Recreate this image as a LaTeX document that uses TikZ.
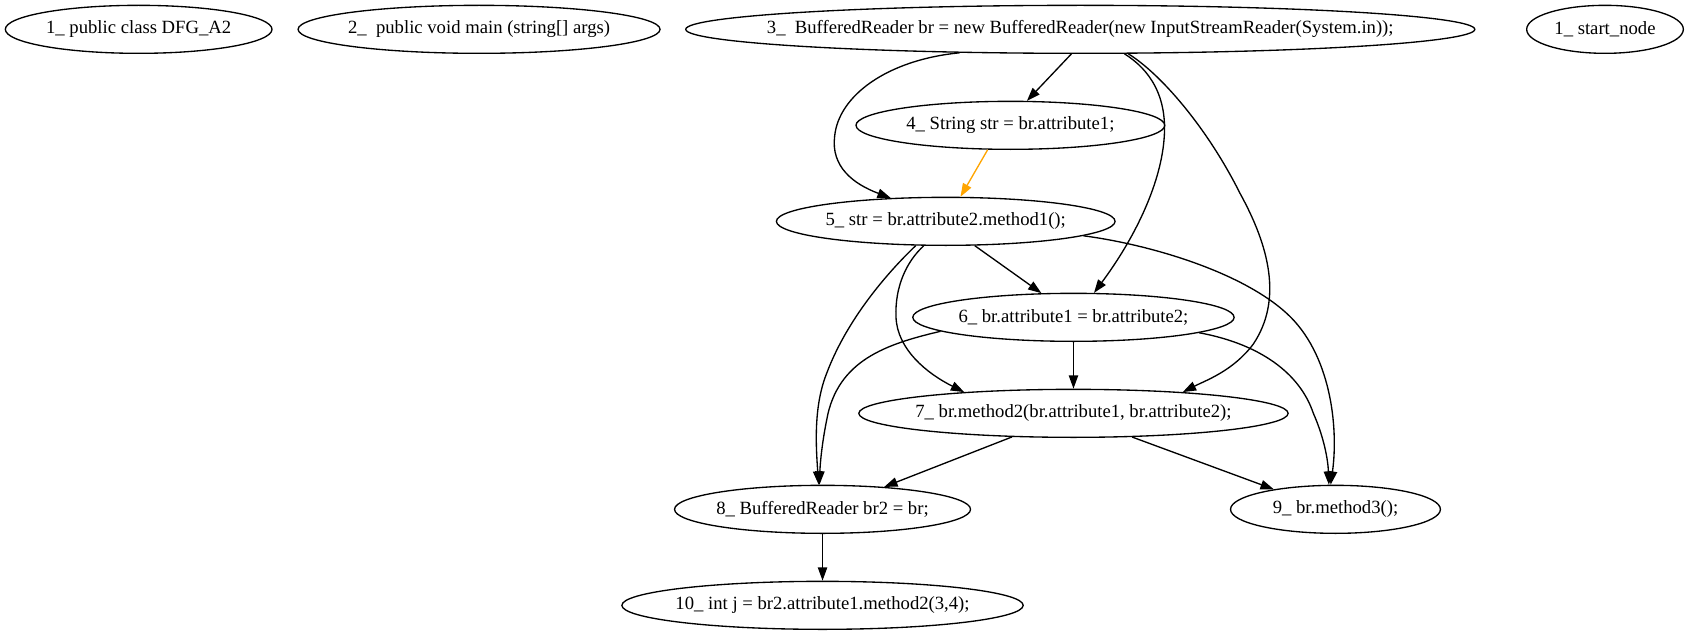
\documentclass[tikz,border=0pt]{standalone}
\usepackage{fontspec}
\setmainfont{Liberation Serif}
\usetikzlibrary{arrows.meta,shapes.geometric}
\definecolor{gvorange}{HTML}{FFA500}
\tikzset{
  gvnode/.style={draw=black, line width=1pt, ellipse, minimum height=36pt, inner sep=0pt,
    font=\fontsize{14pt}{16.8pt}\selectfont,
    execute at begin node={\hbox to 0pt\bgroup\hss},
    execute at end node={\hss\egroup}},
  gvedge/.style={draw=black, line width=1pt, -{Triangle[length=10pt,width=7pt]}},
  hiedge/.style={gvedge, draw=gvorange, fill=none},
}
\begin{document}
\begin{tikzpicture}[x=1pt, y=-1pt]
\fill[white] (0,0) rectangle (1266,476.25);
\useasboundingbox (0,0) rectangle (1266,476.25);

% rank 0
\node[gvnode, minimum width=200pt] (n1) at (104,22) {1\_ public class DFG\_A2};
\node[gvnode, minimum width=271.5pt] (n2) at (359.3,22) {2\_\ \ public void main (string[] args)};
\node[gvnode, minimum width=591.8pt] (n3) at (810.2,22) {3\_\ \ BufferedReader br = new BufferedReader(new InputStreamReader(System.in));};
\node[gvnode, minimum width=117.5pt] (ns) at (1203.75,22) {1\_ start\_node};
% lower ranks
\node[gvnode, minimum width=231.6pt] (n4) at (757.8,94) {4\_ String str = br.attribute1;};
\node[gvnode, minimum width=254pt] (n5) at (709.3,166) {5\_ str = br.attribute2.method1();};
\node[gvnode, minimum width=241pt] (n6) at (805.1,238) {6\_ br.attribute1 = br.attribute2;};
\node[gvnode, minimum width=322pt] (n7) at (805.1,310) {7\_ br.method2(br.attribute1, br.attribute2);};
\node[gvnode, minimum width=222pt] (n8) at (616.9,382) {8\_ BufferedReader br2 = br;};
\node[gvnode, minimum width=157.4pt] (n9) at (1001.6,382) {9\_ br.method3();};
\node[gvnode, minimum width=301pt] (n10) at (616.9,454) {10\_ int j = br2.attribute1.method2(3,4);};

% edges
\draw[gvedge] (n3.250.15) -- (n4.56.8);
\draw[gvedge] (n3.191.09) .. controls (665,45) and (629,72) .. (626,102)
  .. controls (623,125) and (640,138) .. (n5.157.2);
\draw[hiedge] (n4.227.55) -- (n5.59.2);
\draw[gvedge] (n3.331.4) .. controls (862,52) and (876,72) .. (873,105)
  .. controls (870,140) and (850,180) .. (n6.50.75);
\draw[gvedge] (n3.333.47) .. controls (870,55) and (905,95) .. (930,145)
  .. controls (952,185) and (962,225) .. (940,258)
  .. controls (925,278) and (905,285) .. (n7.11.34);
\draw[gvedge] (n5.320.1) -- (n6.143.8);
\draw[gvedge] (n5.228.6) .. controls (680,196) and (671,215) .. (672,238)
  .. controls (673,262) and (695,280) .. (n7.169.46);
\draw[gvedge] (n5.219.8) .. controls (665,205) and (635,240) .. (620,280)
  .. controls (610,305) and (612,335) .. (n8.99.93);
\draw[gvedge] (n5.354.6) .. controls (860,183) and (930,203) .. (965,235)
  .. controls (998,265) and (1004,320) .. (n9.101.3);
\draw[gvedge] (n6.south) -- (n7.north);
\draw[gvedge] (n6.186.76) .. controls (665,258) and (628,270) .. (620,315)
  .. controls (616,335) and (615,350) .. (n8.97.6);
\draw[gvedge] (n6.353.28) .. controls (945,258) and (975,280) .. (985,310)
  .. controls (993,328) and (996,345) .. (n9.105.8);
\draw[gvedge] (n7.201.1) -- (n8.20.8);
\draw[gvedge] (n7.338.53) -- (n9.162.72);
\draw[gvedge] (n8.south) -- (n10.north);
\end{tikzpicture}
\end{document}
